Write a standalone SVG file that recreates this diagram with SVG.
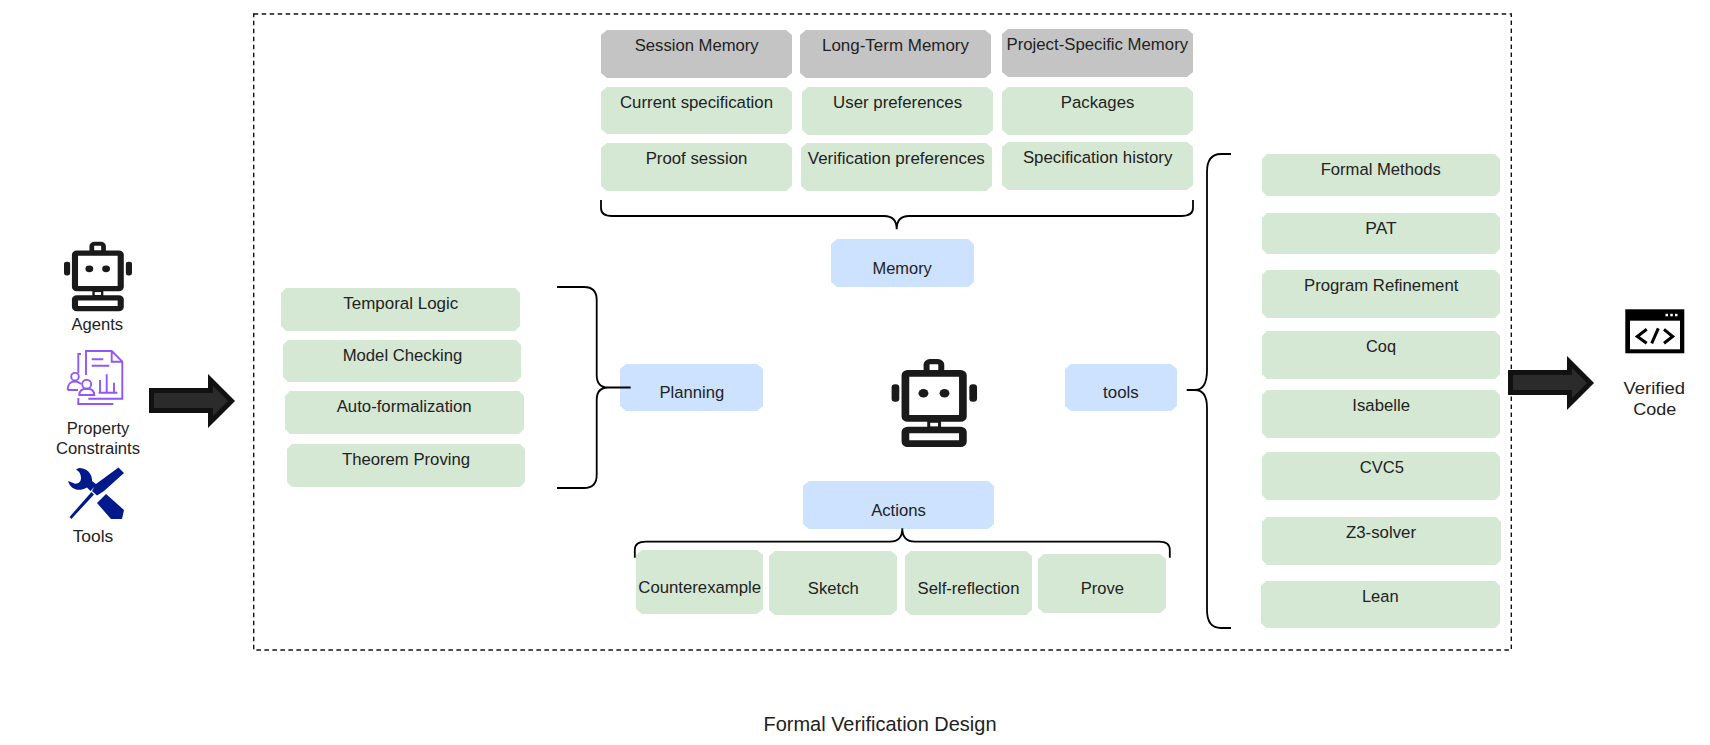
<svg xmlns="http://www.w3.org/2000/svg" xmlns:xlink="http://www.w3.org/1999/xlink" width="1710" height="745" viewBox="0 0 1710 745">
<style>
text{font-family:"Liberation Sans",Arial,sans-serif;font-size:16.7px;fill:#222;text-anchor:middle}
.g{fill:#c4c4c4}.e{fill:#d5e8d4}.b{fill:#cce2ff}
.brace{fill:none;stroke:#000;stroke-width:1.8}
.arrow{fill:#2b2b2b;stroke:#111;stroke-width:5;stroke-linejoin:miter}
.dash{fill:none;stroke:#111;stroke-width:1.4;stroke-dasharray:4.5 3.5}
.ln{fill:none;stroke:#9058f8;stroke-width:1.9}
.rs{fill:#fff;stroke:#1a1a1a;stroke-width:6.7}
.rf{fill:#1a1a1a}
</style>
<defs>
<g id="robot">
<rect class="rf" x="31" y="61" width="12" height="9"/>
<rect x="33.6" y="63.8" width="6.8" height="3.7" fill="#fff"/>
<rect class="rs" x="30.4" y="2.6" width="12.8" height="11" rx="3" style="stroke-width:5.2"/>
<rect class="rs" x="12" y="14.4" width="50" height="45" rx="2"/>
<rect class="rs" x="12" y="71" width="50" height="13.6" rx="2"/>
<rect class="rf" x="0" y="25.3" width="6.7" height="17.4" rx="3"/>
<rect class="rf" x="67.6" y="25.3" width="6.7" height="17.4" rx="3"/>
<circle class="rf" cx="27.7" cy="34.3" r="4.3"/>
<circle class="rf" cx="46" cy="34.3" r="4.3"/>
</g>
</defs>
<rect width="1710" height="745" fill="#fff"/>
<rect id="boundary" class="dash" x="253.7" y="14" width="1257.6" height="636"/>

<g id="session-memory"><polygon class="g" points="607,30 786,30 792,35 792,73 786,78 607,78 601,73 601,35"/><text x="696.700" y="51" textLength="124" lengthAdjust="spacingAndGlyphs">Session Memory</text></g>
<g id="long-term-memory"><polygon class="g" points="806,30 985,30 991,35 991,73 985,78 806,78 800,73 800,35"/><text x="895.500" y="51" textLength="147" lengthAdjust="spacingAndGlyphs">Long-Term Memory</text></g>
<g id="project-memory"><polygon class="g" points="1008,29 1187,29 1193,34 1193,72 1187,77 1008,77 1002,72 1002,34"/><text x="1097.300" y="50" textLength="181.600" lengthAdjust="spacingAndGlyphs">Project-Specific Memory</text></g>
<g id="current-spec"><polygon class="e" points="607,87 786,87 792,92 792,129 786,134 607,134 601,129 601,92"/><text x="696.500" y="108" textLength="153" lengthAdjust="spacingAndGlyphs">Current specification</text></g>
<g id="user-prefs"><polygon class="e" points="808,87 987,87 993,92 993,130 987,135 808,135 802,130 802,92"/><text x="897.600" y="108" textLength="129" lengthAdjust="spacingAndGlyphs">User preferences</text></g>
<g id="packages"><polygon class="e" points="1008,87 1187,87 1193,92 1193,130 1187,135 1008,135 1002,130 1002,92"/><text x="1097.600" y="108" textLength="73.500" lengthAdjust="spacingAndGlyphs">Packages</text></g>
<g id="proof-session"><polygon class="e" points="607,143 786,143 792,148 792,186 786,191 607,191 601,186 601,148"/><text x="696.500" y="164" textLength="101.600" lengthAdjust="spacingAndGlyphs">Proof session</text></g>
<g id="verification-prefs"><polygon class="e" points="807,143 986,143 992,148 992,186 986,191 807,191 801,186 801,148"/><text x="896.300" y="164" textLength="177" lengthAdjust="spacingAndGlyphs">Verification preferences</text></g>
<g id="spec-history"><polygon class="e" points="1008,142 1187,142 1193,147 1193,185 1187,190 1008,190 1002,185 1002,147"/><text x="1097.600" y="163" textLength="149.400" lengthAdjust="spacingAndGlyphs">Specification history</text></g>

<g id="memory"><polygon class="b" points="837,239 968,239 974,244 974,282 968,287 837,287 831,282 831,244"/><text x="902.200" y="274" textLength="59.200" lengthAdjust="spacingAndGlyphs">Memory</text></g>
<g id="planning"><polygon class="b" points="626,364 757,364 763,369 763,406 757,411 626,411 620,406 620,369"/><text x="691.800" y="398.300" textLength="64.700" lengthAdjust="spacingAndGlyphs">Planning</text></g>
<g id="tools"><polygon class="b" points="1071,364 1171,364 1177,369 1177,406 1171,411 1071,411 1065,406 1065,369"/><text x="1120.900" y="398.300" textLength="35.600" lengthAdjust="spacingAndGlyphs">tools</text></g>
<g id="actions"><polygon class="b" points="809,481 988,481 994,486 994,524 988,529 809,529 803,524 803,486"/><text x="898.500" y="516" textLength="54.700" lengthAdjust="spacingAndGlyphs">Actions</text></g>

<g id="counterexample"><polygon class="e" points="642,550 757,550 763,555 763,609 757,614 642,614 636,609 636,555"/><text x="699.700" y="593.300" textLength="122.800" lengthAdjust="spacingAndGlyphs">Counterexample</text></g>
<g id="sketch"><polygon class="e" points="775,551 891,551 897,556 897,610 891,615 775,615 769,610 769,556"/><text x="833.300" y="594.300" textLength="50.900" lengthAdjust="spacingAndGlyphs">Sketch</text></g>
<g id="self-reflection"><polygon class="e" points="911,551 1026,551 1032,556 1032,610 1026,615 911,615 905,610 905,556"/><text x="968.500" y="594.300" textLength="101.800" lengthAdjust="spacingAndGlyphs">Self-reflection</text></g>
<g id="prove"><polygon class="e" points="1044,554 1160,554 1166,559 1166,608 1160,613 1044,613 1038,608 1038,559"/><text x="1102.300" y="594.300" textLength="43.200" lengthAdjust="spacingAndGlyphs">Prove</text></g>

<g id="temporal-logic"><polygon class="e" points="286,288 515,288 520,293 520,326 515,331 286,331 281,326 281,293"/><text x="400.800" y="309" textLength="115" lengthAdjust="spacingAndGlyphs">Temporal Logic</text></g>
<g id="model-checking"><polygon class="e" points="288,340 516,340 521,345 521,377 516,382 288,382 283,377 283,345"/><text x="402.500" y="361" textLength="119.700" lengthAdjust="spacingAndGlyphs">Model Checking</text></g>
<g id="auto-formalization"><polygon class="e" points="290,391 519,391 524,396 524,429 519,434 290,434 285,429 285,396"/><text x="404.200" y="412" textLength="135" lengthAdjust="spacingAndGlyphs">Auto-formalization</text></g>
<g id="theorem-proving"><polygon class="e" points="292,444 520,444 525,449 525,482 520,487 292,487 287,482 287,449"/><text x="406" y="465" textLength="128" lengthAdjust="spacingAndGlyphs">Theorem Proving</text></g>

<g id="formal-methods"><polygon class="e" points="1267,154 1495,154 1500,159 1500,191 1495,196 1267,196 1262,191 1262,159"/><text x="1380.700" y="175" textLength="120" lengthAdjust="spacingAndGlyphs">Formal Methods</text></g>
<g id="pat"><polygon class="e" points="1267,213 1495,213 1500,218 1500,249 1495,254 1267,254 1262,249 1262,218"/><text x="1381" y="234" textLength="31.300" lengthAdjust="spacingAndGlyphs">PAT</text></g>
<g id="program-refinement"><polygon class="e" points="1267,270 1495,270 1500,275 1500,313 1495,318 1267,318 1262,313 1262,275"/><text x="1381.200" y="291" textLength="154.300" lengthAdjust="spacingAndGlyphs">Program Refinement</text></g>
<g id="coq"><polygon class="e" points="1267,331 1495,331 1500,336 1500,374 1495,379 1267,379 1262,374 1262,336"/><text x="1381" y="352" textLength="30" lengthAdjust="spacingAndGlyphs">Coq</text></g>
<g id="isabelle"><polygon class="e" points="1267,390 1495,390 1500,395 1500,433 1495,438 1267,438 1262,433 1262,395"/><text x="1381.200" y="411" textLength="57.700" lengthAdjust="spacingAndGlyphs">Isabelle</text></g>
<g id="cvc5"><polygon class="e" points="1267,452 1495,452 1500,457 1500,495 1495,500 1267,500 1262,495 1262,457"/><text x="1381.800" y="472.700" textLength="44.300" lengthAdjust="spacingAndGlyphs">CVC5</text></g>
<g id="z3-solver"><polygon class="e" points="1267,517 1496,517 1501,522 1501,560 1496,565 1267,565 1262,560 1262,522"/><text x="1381" y="538.300" textLength="70" lengthAdjust="spacingAndGlyphs">Z3-solver</text></g>
<g id="lean"><polygon class="e" points="1266,581 1495,581 1500,586 1500,623 1495,628 1266,628 1261,623 1261,586"/><text x="1380.300" y="602.300" textLength="36.700" lengthAdjust="spacingAndGlyphs">Lean</text></g>

<g id="center-robot"><use href="#robot" transform="translate(891.600,359) scale(1.150,1)"/></g>

<g id="agents"><use href="#robot" transform="translate(64,241.700) scale(.915,.79)"/><text x="97.300" y="330" textLength="51.700" lengthAdjust="spacingAndGlyphs">Agents</text></g>

<g id="property-constraints">
<path class="ln" d="M86,375V351H111.700L122.300,361.700V398.800H88.300M111.700,351V361.700H122.300M81,354H78.300V373M78.300,398V404H113.300M91.700,359.300H103.300M91.700,365.700H109.300M98.700,392.700H117.300M100,380V392.700M106.700,374.300V392.700M114,382.700V392.700"/>
<circle class="ln" cx="75" cy="376.700" r="3.800"/>
<path class="ln" d="M67.700,390C68,382 72,381.500 75,381.500C77,381.500 79,382 81,384M67.700,390H78"/>
<circle class="ln" cx="86.700" cy="384.300" r="4.500"/>
<path class="ln" d="M79.300,395C79.300,389.500 83,388.800 86.700,388.800C91,388.800 94.300,390 94.300,395Z"/>
<text x="98" y="434.300" textLength="62.700" lengthAdjust="spacingAndGlyphs">Property</text>
<text x="98" y="454.300" textLength="84" lengthAdjust="spacingAndGlyphs">Constraints</text>
</g>

<g id="tools-input">
<path fill="#001a8c" d="M118.500,467.500L124,473L104,491L97,495.500L92,491L96,484ZM91.500,492L94,494.500L75,515L71.500,519L69.500,517ZM97,503L106,494L124,510L122,519L111,519ZM79,468C87,468 92.500,474 92,481L96.500,484.500L90.500,491L87,487.500C79,492 71,490 68,481L74.500,483.500C78,484.500 81,481.500 81,478C81,474 79,471 76,469.500Z"/>
<text x="93" y="542" textLength="40.700" lengthAdjust="spacingAndGlyphs">Tools</text>
</g>

<g id="verified-code">
<rect x="1625.300" y="309.300" width="59" height="44" fill="#000"/>
<rect x="1630" y="320.700" width="50" height="28.600" fill="#fff"/>
<rect x="1665.500" y="313.800" width="2.500" height="2.500" fill="#fff"/><rect x="1670.300" y="313.800" width="2.500" height="2.500" fill="#fff"/><rect x="1675" y="313.800" width="2.500" height="2.500" fill="#fff"/>
<path fill="none" stroke="#000" stroke-width="3" d="M1646.700,329.300L1637.300,336.500L1646.700,343.300M1658.300,328.300L1651.700,343.300M1664,329.300L1672.700,336.500L1664,343.300"/>
<text x="1654.300" y="394.300" textLength="61.500" lengthAdjust="spacingAndGlyphs">Verified</text>
<text x="1654.700" y="415" textLength="43" lengthAdjust="spacingAndGlyphs">Code</text>
</g>

<text id="caption" x="880" y="730.700" style="font-size:19.900px" textLength="233" lengthAdjust="spacingAndGlyphs">Formal Verification Design</text>

<g id="connectors">
<path class="brace" d="M601,200V208Q601,216 612,216H884Q896.700,216 896.700,229.300Q896.700,216 909,216H1181Q1193,216 1193,208V200"/>
<path class="brace" d="M634.800,557.700V550Q634.800,541.700 646,541.700H890Q902.300,541.700 902.300,528.300Q902.300,541.700 915,541.700H1159Q1169.800,541.700 1169.800,550V557.700"/>
<path class="brace" d="M557,287H584Q596.700,287 596.700,300V375Q596.700,387.500 608,387.500H630.700M557,488H584Q596.700,488 596.700,475V400Q596.700,387.500 608,387.500"/>
<path class="brace" d="M1231,154H1221Q1207,154 1207,172V370Q1207,390 1195,390H1186.700M1195,390Q1207,390 1207,408V610Q1207,628 1221,628H1231"/>
<polygon class="arrow" points="151.500,390.500 210.500,390.500 210.500,380 231.500,401 210.500,422 210.500,410.500 151.500,410.500"/>
<polygon class="arrow" points="1510.500,372.500 1569.500,372.500 1569.500,362 1590.500,383 1569.500,404 1569.500,392.500 1510.500,392.500"/>
</g>
</svg>
